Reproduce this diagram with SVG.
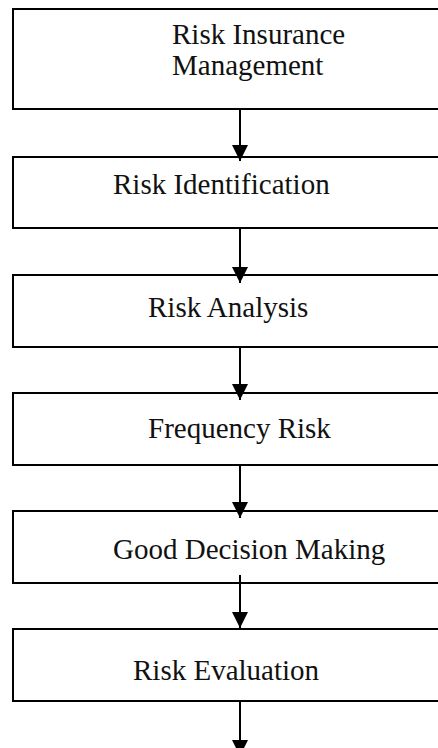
<svg xmlns="http://www.w3.org/2000/svg" width="438" height="748" viewBox="0 0 438 748">
<style>
.box{fill:#fff;stroke:#000;stroke-width:2}
.lbl{font-family:"Liberation Serif","Times New Roman",serif;font-size:29px;fill:#111}
.conn{stroke:#000;stroke-width:2;fill:none}
</style>
<defs>
<marker id="ah" viewBox="0 0 16 16" refX="16" refY="8" markerWidth="16" markerHeight="16" markerUnits="userSpaceOnUse" orient="auto">
<path d="M0,0 L16,8 L0,16 z" fill="#000"/>
</marker>
</defs>
<rect width="438" height="748" fill="#fff"/>
<g id="n1"><rect class="box" x="13" y="9" width="440" height="100"/>
<text class="lbl" x="172" y="44">Risk Insurance</text>
<text class="lbl" x="172" y="75">Management</text></g>
<g id="n2"><rect class="box" x="13" y="157" width="440" height="71"/>
<text class="lbl" x="113" y="194">Risk Identification</text></g>
<g id="n3"><rect class="box" x="13" y="275" width="440" height="72"/>
<text class="lbl" x="148" y="317">Risk Analysis</text></g>
<g id="n4"><rect class="box" x="13" y="393" width="440" height="72"/>
<text class="lbl" x="148" y="438">Frequency Risk</text></g>
<g id="n5"><rect class="box" x="13" y="511" width="440" height="72"/>
<text class="lbl" x="113" y="559">Good Decision Making</text></g>
<g id="n6"><rect class="box" x="13" y="629" width="440" height="72"/>
<text class="lbl" x="133" y="680">Risk Evaluation</text></g>
<g id="connectors">
<line class="conn" x1="240" y1="109" x2="240" y2="161" marker-end="url(#ah)"/>
<line class="conn" x1="240" y1="228" x2="240" y2="283" marker-end="url(#ah)"/>
<line class="conn" x1="240" y1="347" x2="240" y2="400" marker-end="url(#ah)"/>
<line class="conn" x1="240" y1="465" x2="240" y2="518" marker-end="url(#ah)"/>
<line class="conn" x1="240" y1="575" x2="240" y2="628" marker-end="url(#ah)"/>
<line class="conn" x1="240" y1="701" x2="240" y2="756" marker-end="url(#ah)"/>
</g>
</svg>
